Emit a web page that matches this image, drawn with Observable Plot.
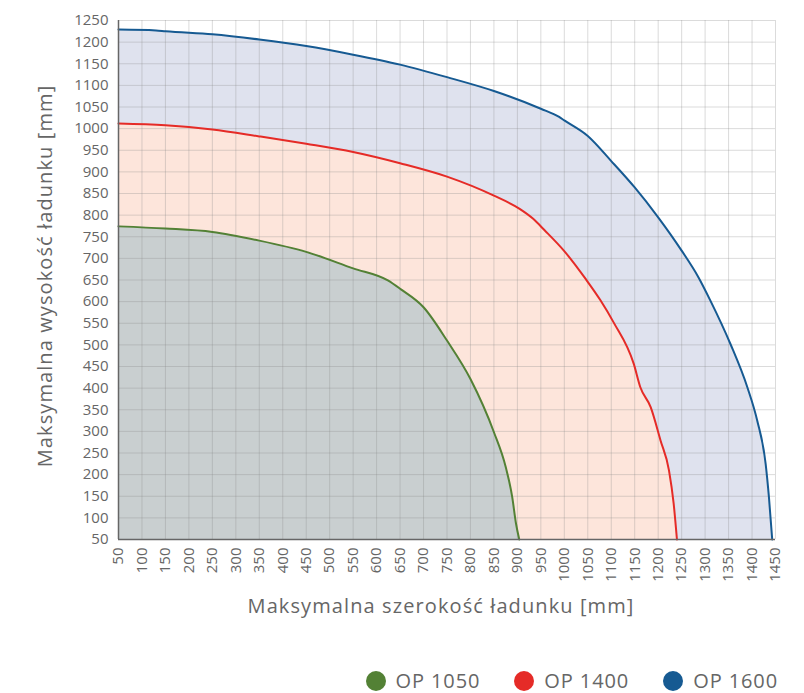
<!DOCTYPE html>
<html>
<head>
<meta charset="utf-8">
<script src="https://cdn.jsdelivr.net/npm/d3@7"></script>
<script src="https://cdn.jsdelivr.net/npm/@observablehq/plot@0.6"></script>
<style>
  html, body { margin: 0; padding: 0; background: #fff; }
  body { width: 804px; height: 693px; position: relative; font-family: "Open Sans", Lato, sans-serif; }
  #legend { position: absolute; top: 667px; right: 26px; display: flex; align-items: center; color: #666; font-size: 20px; letter-spacing: 0.9px; font-family: "Open Sans", sans-serif; }
  .item { display: flex; align-items: center; margin-left: 34px; }
  .dot { width: 20px; height: 20px; border-radius: 50%; margin-right: 10px; }
</style>
</head>
<body>
<div id="chart"></div>
<div id="legend"></div>
<script>
// Tick labels
const xTicks = [50,100,150,200,250,300,350,400,450,500,550,600,650,700,750,800,850,900,950,1000,1050,1100,1150,1200,1250,1300,1350,1400,1450];
const yTicks = [50,100,150,200,250,300,350,400,450,500,550,600,650,700,750,800,850,900,950,1000,1050,1100,1150,1200,1250];

// Series names
const seriesNames = ["OP 1050", "OP 1400", "OP 1600"];
const seriesColors = ["#538135", "#e52b27", "#165a92"];

// OP 1050 (green)
const op1050X = [50, 150, 250, 350, 450, 550, 624, 651, 700, 750, 800, 850, 875, 889, 897, 904];
const op1050Y = [774, 769, 761, 741, 715, 677, 649, 629, 587, 510, 421, 298, 218, 148, 87, 50];

// OP 1400 (red)
const op1400X = [50, 150, 250, 350, 450, 550, 650, 750, 850, 904, 933, 958, 999, 1045, 1077, 1105, 1148, 1162, 1184, 1205, 1223, 1233, 1240];
const op1400Y = [1012, 1008, 998, 982, 965, 946, 920, 889, 845, 815, 792, 765, 718, 653, 603, 552, 456, 402, 356, 279, 210, 133, 50];

// OP 1600 (blue)
const op1600X = [50, 130, 150, 250, 350, 450, 550, 650, 750, 850, 950, 989, 1000, 1050, 1100, 1150, 1200, 1250, 1286, 1311, 1354, 1390, 1411, 1429, 1436, 1443];
const op1600Y = [1229, 1227, 1225, 1218, 1206, 1191, 1171, 1148, 1119, 1087, 1046, 1027, 1019, 983, 925, 864, 795, 718, 656, 603, 502, 402, 325, 225, 148, 50];

const toRows = (xs, ys) => xs.map((x, i) => ({x, y: ys[i]}));
const green = toRows(op1050X, op1050Y);
const red = toRows(op1400X, op1400Y);
const blue = toRows(op1600X, op1600Y);

const curve = "monotone-x";
const gridStyle = {stroke: "#888", strokeOpacity: 0.3, strokeWidth: 1};
const fmt = d => String(d);

const chart = Plot.plot({
  width: 804,
  height: 650,
  marginLeft: 118,
  marginRight: 29,
  marginTop: 20,
  marginBottom: 111,
  style: {fontFamily: "'Open Sans', Lato, sans-serif", fontSize: "15px", color: "#666", background: "#fff"},
  x: {domain: [50, 1450]},
  y: {domain: [50, 1250]},
  marks: [
    Plot.areaY(blue, {x: "x", y1: 50, y2: "y", fill: "#dfe2ee", curve}),
    Plot.areaY(red, {x: "x", y1: 50, y2: "y", fill: "#fde5db", curve}),
    Plot.areaY(green, {x: "x", y1: 50, y2: "y", fill: "#c9cfd0", curve}),
    Plot.gridX(xTicks, gridStyle),
    Plot.gridY(yTicks, gridStyle),
    Plot.line(blue, {x: "x", y: "y", stroke: seriesColors[2], strokeWidth: 2, curve}),
    Plot.line(red, {x: "x", y: "y", stroke: seriesColors[1], strokeWidth: 2, curve}),
    Plot.line(green, {x: "x", y: "y", stroke: seriesColors[0], strokeWidth: 2, curve}),
    Plot.ruleX([50], {stroke: "#666", strokeWidth: 1.5}),
    Plot.ruleY([50], {stroke: "#666", strokeWidth: 1.5}),
    Plot.axisX(xTicks, {tickRotate: -90, tickSize: 0, tickPadding: 8, label: null, fontSize: 15, tickFormat: fmt}),
    Plot.axisY(yTicks, {tickSize: 0, tickPadding: 10, label: null, fontSize: 15, tickFormat: fmt}),
    Plot.text(["Maksymalna szerokość ładunku [mm]"], {frameAnchor: "bottom", dy: 73, dx: -6, fontSize: 20, fill: "#666", textAnchor: "middle"}),
    Plot.text(["Maksymalna wysokość ładunku [mm]"], {frameAnchor: "left", dx: -73, dy: -4, rotate: -90, fontSize: 20, fill: "#666", textAnchor: "middle"})
  ]
});
document.getElementById("chart").appendChild(chart);
// letter spacing for axis titles
d3.select(chart).selectAll("text").filter(function() { return this.textContent.startsWith("Maksymalna"); }).style("letter-spacing", "1.1px");

const legend = document.getElementById("legend");
seriesNames.forEach((name, i) => {
  const item = document.createElement("div");
  item.className = "item";
  const dot = document.createElement("span");
  dot.className = "dot";
  dot.style.background = seriesColors[i];
  const label = document.createElement("span");
  label.textContent = name;
  item.appendChild(dot);
  item.appendChild(label);
  legend.appendChild(item);
});
</script>
</body>
</html>
